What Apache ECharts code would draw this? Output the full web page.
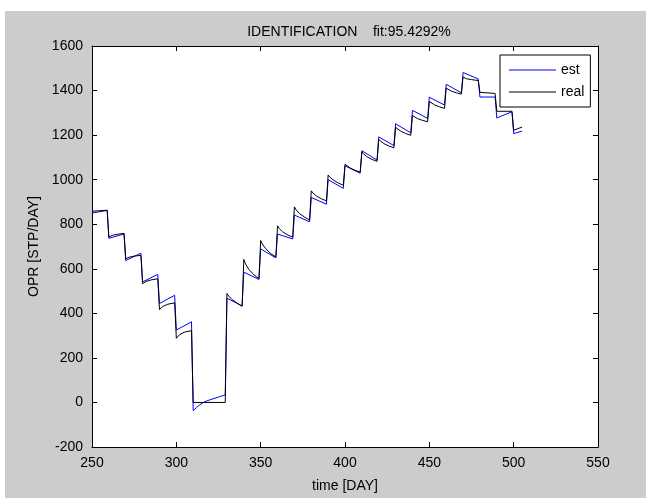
<!DOCTYPE html>
<html>
<head>
<meta charset="utf-8">
<title>IDENTIFICATION</title>
<script src="https://cdn.jsdelivr.net/npm/echarts@6/dist/echarts.min.js"></script>
<style>
  html, body { margin: 0; padding: 0; background: #ffffff; }
  #frame { position: absolute; left: 5px; top: 11px; width: 641px; height: 487px; background: #cccccc; }
  #chart { position: absolute; left: 0; top: 0; width: 656px; height: 498px; }
</style>
</head>
<body>
<div id="frame"></div>
<div id="chart"></div>
<script>
// measured oil production rate (real)
const realDays = [250, 259, 260, 262, 265, 269, 270, 272, 275, 279, 280, 282, 285, 289,
  290, 292, 295, 299, 300, 302, 305, 309, 310, 329, 330, 331, 333, 336, 339,
  340, 341, 343, 346, 349, 350, 351, 353, 356, 359, 360, 361, 363, 366, 369,
  370, 371, 373, 376, 379, 380, 381, 383, 386, 389, 390, 391, 393, 396, 399,
  400, 401, 403, 406, 409, 410, 411, 413, 416, 419, 420, 421, 423, 426, 429,
  430, 431, 433, 436, 439, 440, 441, 443, 446, 449, 450, 451, 453, 456, 459,
  460, 461, 463, 466, 469, 470, 472, 475, 479, 480, 489, 490, 499, 500, 505];
const realOpr = [858, 863, 742, 750, 755, 759, 645, 652, 657, 660, 533, 543, 550, 555,
  417, 431, 441, 447, 288, 305, 316, 322, 0, 0, 489, 478, 462, 446, 432,
  642, 622, 597, 573, 556, 727, 711, 690, 668, 653, 793, 781, 766, 752, 742,
  878, 865, 848, 832, 819, 950, 940, 927, 914, 905, 1021, 1011, 999, 985, 975,
  1069, 1062, 1053, 1042, 1034, 1125, 1116, 1103, 1091, 1082, 1180, 1172, 1162, 1151, 1143,
  1235, 1228, 1218, 1207, 1199, 1288, 1282, 1274, 1266, 1260, 1351, 1345, 1336, 1327, 1320,
  1411, 1405, 1398, 1390, 1384, 1461, 1453, 1449, 1445, 1392, 1387, 1307, 1307, 1222, 1236];

// identified model output (est)
const estDays = [250, 259, 260, 269, 270, 279, 280, 289, 290, 299, 300, 309,
  310, 312, 314, 317, 320, 325, 329, 330, 339, 340, 349, 350, 359, 360, 369,
  370, 379, 380, 389, 390, 399, 400, 409, 410, 419, 420, 429, 430, 439,
  440, 449, 450, 459, 460, 469, 470, 479, 480, 489, 490, 499, 500, 505];
const estOpr = [850, 862, 737, 756, 637, 670, 541, 575, 444, 481, 325, 362,
  -37, -22, -10, 4, 12, 24, 34, 468, 433, 585, 552, 689, 649, 756, 734,
  841, 811, 920, 890, 1000, 961, 1062, 1029, 1130, 1088, 1192, 1153, 1251, 1210,
  1311, 1275, 1370, 1335, 1428, 1390, 1481, 1452, 1371, 1371, 1277, 1305, 1207, 1218];

const xRange = { min: 250, max: 550, interval: 50 };
const yRange = { min: -200, max: 1600, interval: 200 };

const FONT = "'Liberation Sans', Arial, Helvetica, sans-serif";

function pairs(xs, ys) {
  return xs.map((x, i) => [x, ys[i]]);
}

const plain = v => String(v);
const axisLine = { show: true, onZero: false, lineStyle: { color: '#000', width: 1 } };
const tickIn = { show: true, inside: true, length: 5, lineStyle: { color: '#000', width: 1 } };

const chart = echarts.init(document.getElementById('chart'), null, { renderer: 'canvas' });

chart.setOption({
  backgroundColor: 'transparent',
  animation: false,
  title: {
    text: 'IDENTIFICATION    fit:95.4292%',
    left: 344,
    textAlign: 'center',
    top: 20,
    textStyle: { fontFamily: FONT, fontSize: 14, fontWeight: 'normal', color: '#000' }
  },
  legend: {
    orient: 'vertical',
    left: 500,
    top: 55,
    padding: [7, 6, 7, 9],
    itemGap: 6,
    itemWidth: 47,
    itemHeight: 1,
    icon: 'rect',
    borderColor: '#000',
    borderWidth: 1,
    backgroundColor: '#fff',
    borderRadius: 0,
    textStyle: { fontFamily: FONT, fontSize: 14, color: '#000', lineHeight: 16 },
    data: ['est', 'real']
  },
  grid: {
    left: 92, right: 58, top: 46, bottom: 50,
    show: true, backgroundColor: '#ffffff', borderWidth: 0
  },
  xAxis: [
    {
      type: 'value', position: 'bottom', ...xRange,
      name: 'time [DAY]', nameLocation: 'middle', nameGap: 32,
      nameTextStyle: { fontFamily: FONT, fontSize: 14, color: '#000' },
      axisLine, axisTick: tickIn, splitLine: { show: false },
      axisLabel: { fontFamily: FONT, fontSize: 14, color: '#000', margin: 9, formatter: plain }
    },
    {
      type: 'value', position: 'top', ...xRange,
      axisLine, axisTick: tickIn, splitLine: { show: false },
      axisLabel: { show: false }
    }
  ],
  yAxis: [
    {
      type: 'value', position: 'left', ...yRange,
      name: 'OPR [STP/DAY]', nameLocation: 'middle', nameGap: 43, nameRotate: 90,
      nameTextStyle: { fontFamily: FONT, fontSize: 14, color: '#000' },
      axisLine, axisTick: tickIn, splitLine: { show: false },
      axisLabel: { fontFamily: FONT, fontSize: 14, color: '#000', margin: 9, formatter: plain }
    },
    {
      type: 'value', position: 'right', ...yRange,
      axisLine, axisTick: tickIn, splitLine: { show: false },
      axisLabel: { show: false }
    }
  ],
  series: [
    {
      name: 'est', type: 'line', xAxisIndex: 0, yAxisIndex: 0,
      data: pairs(estDays, estOpr),
      symbol: 'none', showSymbol: false,
      lineStyle: { color: '#0000ff', width: 1 },
      itemStyle: { color: '#0000ff' }
    },
    {
      name: 'real', type: 'line', xAxisIndex: 0, yAxisIndex: 0,
      data: pairs(realDays, realOpr),
      symbol: 'none', showSymbol: false,
      lineStyle: { color: '#000000', width: 1 },
      itemStyle: { color: '#000000' }
    }
  ]
});
</script>
</body>
</html>
